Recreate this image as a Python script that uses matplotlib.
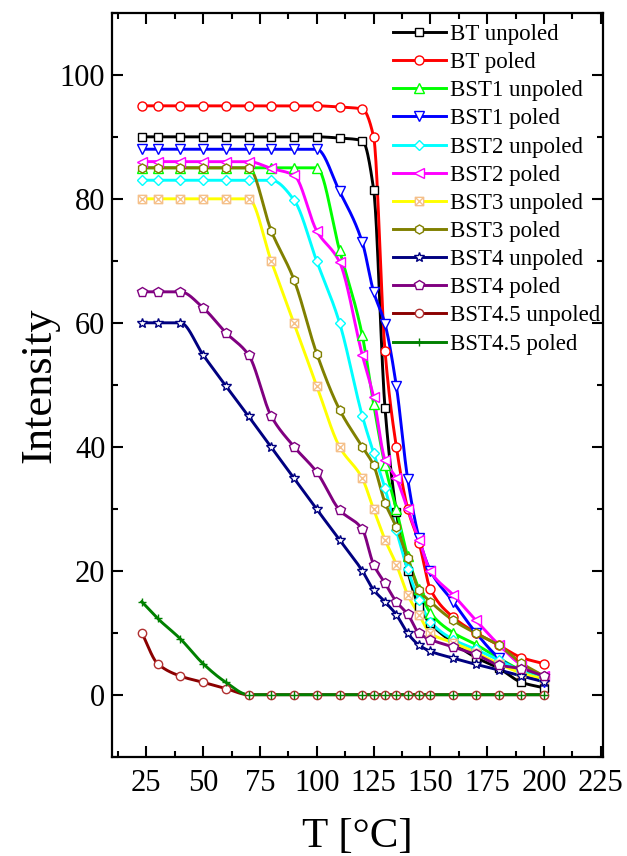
import numpy as np
import matplotlib
matplotlib.use("Agg")
import matplotlib.pyplot as plt
from matplotlib.path import Path
from matplotlib.ticker import MultipleLocator

plt.rcParams['font.family'] = ['Liberation Serif', 'DejaVu Serif']
plt.rcParams['mathtext.fontset'] = 'stix'

# ---------------- data ----------------
T = [23, 30, 40, 50, 60, 70, 80, 90, 100, 110, 120, 125, 130, 135, 140, 145, 150, 160, 170, 180, 190, 200]

bt_unpoled = [90, 90, 90, 90, 90, 90, 90, 90, 90, 89.8, 89.4, 81.5, 46.3, 29.5, 20, 14.2, 11.5, 8.4, 6, 4.3, 2, 1.1]
bt_poled = [95, 95, 95, 95, 95, 95, 95, 95, 95, 94.8, 94.5, 90, 55.5, 40, 30, 24.5, 17, 12.5, 10, 8, 6, 5]
bst1_unpoled = [85, 85, 85, 85, 85, 85, 85, 85, 85, 71.7, 58, 46.9, 37, 29.9, 22.3, 17, 13.2, 10, 8.1, 5.9, 4, 3]
bst1_poled = [88, 88, 88, 88, 88, 88, 88, 88, 88, 81.2, 73, 65, 59.8, 49.8, 34.8, 25.3, 20, 15, 10, 6, 3.6, 2]
bst2_unpoled = [83, 83, 83, 83, 83, 83, 83, 79.8, 69.9, 60, 45, 39, 33.3, 26.5, 20.2, 15.3, 11.8, 8.9, 7.3, 5.6, 3.8, 2.5]
bst2_poled = [86, 86, 86, 86, 86, 86, 84.9, 83.8, 74.8, 69.8, 54.8, 48, 37.9, 34.9, 29.9, 25, 19.9, 16.1, 12, 8.1, 4.8, 3]
bst3_unpoled = [80, 80, 80, 80, 80, 80, 69.9, 59.9, 49.8, 40, 34.9, 29.9, 25, 21, 16.1, 12.9, 9.9, 8.4, 6.8, 5, 3.5, 2.5]
bst3_poled = [85, 85, 85, 85, 85, 85, 74.8, 66.9, 55, 46, 40, 37, 31, 27, 22, 16.9, 15, 12, 9.9, 8, 5.1, 3]
bst4_unpoled = [60, 60, 60, 54.8, 49.8, 44.9, 39.9, 34.9, 29.9, 25, 20, 16.9, 15, 12.9, 9.9, 8, 7, 5.9, 4.9, 4, 3, 2.1]
bst4_poled = [65, 65, 65, 62.4, 58.4, 54.8, 44.9, 40, 35.9, 29.8, 26.7, 21, 18, 15, 13, 9.9, 8.9, 7.7, 6.5, 4.8, 4.2, 3]
bst45_unpoled = [10, 5, 3, 2, 1, 0, 0, 0, 0, 0, 0, 0, 0, 0, 0, 0, 0, 0, 0, 0, 0, 0]
bst45_poled = [15, 12.3, 9, 5, 2, 0, 0, 0, 0, 0, 0, 0, 0, 0, 0, 0, 0, 0, 0, 0, 0, 0]

labels = ["BT unpoled", "BT poled", "BST1 unpoled", "BST1 poled", "BST2 unpoled",
          "BST2 poled", "BST3 unpoled", "BST3 poled", "BST4 unpoled", "BST4 poled",
          "BST4.5 unpoled", "BST4.5 poled"]
series = [bt_unpoled, bt_poled, bst1_unpoled, bst1_poled, bst2_unpoled, bst2_poled,
          bst3_unpoled, bst3_poled, bst4_unpoled, bst4_poled, bst45_unpoled, bst45_poled]

# ---------------- styles ----------------
xbox = Path([(-1, -1), (1, -1), (1, 1), (-1, 1), (-1, -1), (-1, -1), (1, 1), (-1, 1), (1, -1)],
            [Path.MOVETO, Path.LINETO, Path.LINETO, Path.LINETO, Path.LINETO,
             Path.MOVETO, Path.LINETO, Path.MOVETO, Path.LINETO])

line_colors = ['#000000', '#FF0000', '#00FF00', '#0000FF', '#00FFFF', '#FF00FF',
               '#FFFF00', '#808000', '#000080', '#800080', '#8B0000', '#008000']
marker_colors = ['#000000', '#FF0000', '#00FF00', '#0000FF', '#00FFFF', '#FF00FF',
                 '#F5C08A', '#808000', '#000080', '#800080', '#B03030', '#008000']
markers = ['s', 'o', '^', 'v', 'D', '<', xbox, 'h', '*', 'p', 'o', '+']
msizes = [5.5, 6.5, 7, 7, 5.5, 7, 6, 6.5, 7.5, 7, 6, 6]


def pchip(x, y, xs):
    x = np.asarray(x, float)
    y = np.asarray(y, float)
    h = np.diff(x)
    delta = np.diff(y) / h
    n = len(x)
    d = np.zeros(n)
    for k in range(1, n - 1):
        if delta[k - 1] * delta[k] > 0:
            w1 = 2 * h[k] + h[k - 1]
            w2 = h[k] + 2 * h[k - 1]
            d[k] = (w1 + w2) / (w1 / delta[k - 1] + w2 / delta[k])
    d[0] = delta[0]
    d[-1] = delta[-1]
    idx = np.clip(np.searchsorted(x, xs) - 1, 0, n - 2)
    t = (xs - x[idx]) / h[idx]
    h00 = 2 * t**3 - 3 * t**2 + 1
    h10 = t**3 - 2 * t**2 + t
    h01 = -2 * t**3 + 3 * t**2
    h11 = t**3 - t**2
    return h00 * y[idx] + h10 * h[idx] * d[idx] + h01 * y[idx + 1] + h11 * h[idx] * d[idx + 1]


fig = plt.figure(figsize=(6.27, 8.56), dpi=100)
ax = fig.add_axes([0.179, 0.116, 0.783, 0.869])

xs = np.linspace(T[0], T[-1], 800)
handles = []
for i, (lab, ys) in enumerate(zip(labels, series)):
    ax.plot(xs, pchip(T, ys, xs), color=line_colors[i], lw=2.1, zorder=2 + i * 0.01)
    ax.plot(T, ys, linestyle='none', marker=markers[i], ms=msizes[i],
            mfc='white', mec=marker_colors[i], mew=1.0, zorder=3 + i * 0.01)
    h, = ax.plot([], [], color=line_colors[i], lw=2.1, marker=markers[i], ms=msizes[i],
                 mfc='white', mec=marker_colors[i], mew=1.0, label=lab)
    handles.append(h)

ax.set_xlim(10, 226)
ax.set_ylim(-10, 110)
ax.xaxis.set_major_locator(MultipleLocator(25))
ax.xaxis.set_minor_locator(MultipleLocator(12.5))
ax.yaxis.set_major_locator(MultipleLocator(20))
ax.yaxis.set_minor_locator(MultipleLocator(10))
ax.tick_params(which='both', direction='in', top=True, right=True, width=1.5)
ax.tick_params(which='major', length=8, labelsize=22)
ax.tick_params(axis='x', which='major', pad=9)
ax.tick_params(axis='y', which='major', pad=5)
ax.tick_params(which='minor', length=4)
for s in ax.spines.values():
    s.set_linewidth(1.6)

ax.set_xlabel('T [°C]', fontsize=31, labelpad=14)
ax.set_ylabel('Intensity', fontsize=32, labelpad=0)

ax.legend(handles=handles, loc='upper left', frameon=False, fontsize=16.5,
          handlelength=2.3, handletextpad=0.2, labelspacing=0.31,
          borderaxespad=0.0, borderpad=0.0, bbox_to_anchor=(0.572, 0.985))

fig.savefig('out.png', dpi=100)
